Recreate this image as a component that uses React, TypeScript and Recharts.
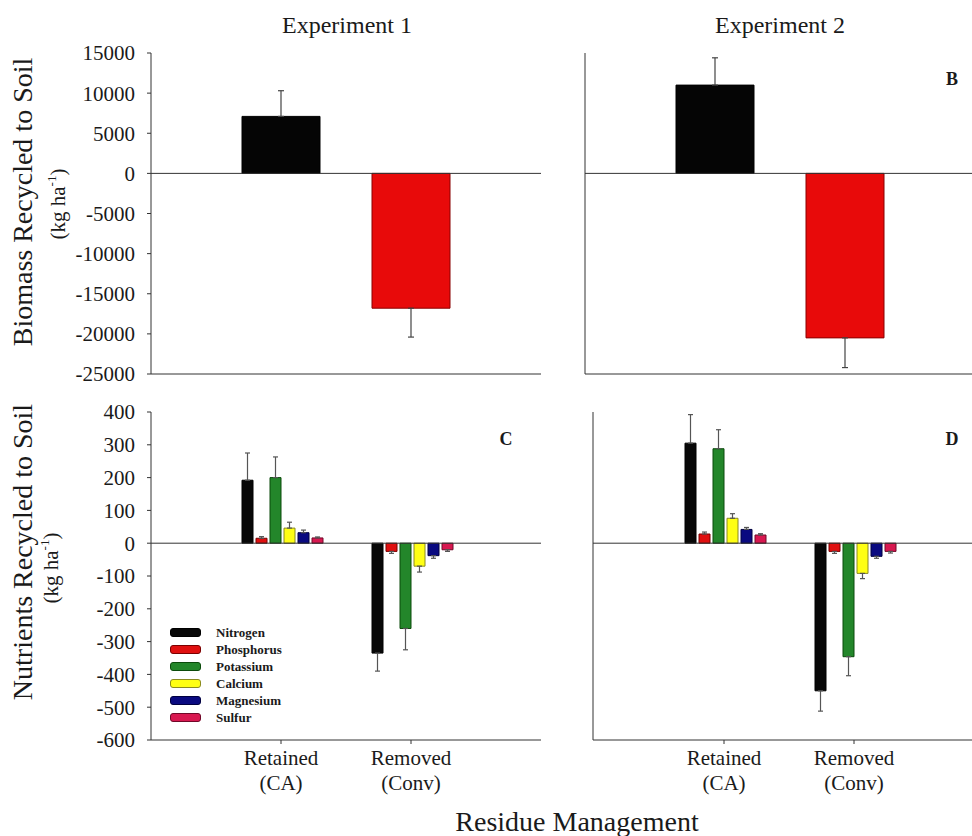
import { Bar, BarChart, Cell, ErrorBar, Legend, ReferenceLine, XAxis, YAxis } from "recharts";

const FONT = "'Liberation Serif', 'DejaVu Serif', 'Times New Roman', serif";
const PAGE_W = 972;
const PAGE_H = 836;
const CHART_W = 1040;
const INK = "#1a1a1a";
const AXIS = "#333";

// residue management treatments
const categories = ["Retained (CA)", "Removed (Conv)"];

// biomass recycled to soil (kg/ha), error drawn away from zero only
const biomassExp1 = [7100, -16800];
const biomassErrExp1 = [3200, 3600];
const biomassExp2 = [11000, -20500];
const biomassErrExp2 = [3400, 3700];
const biomassColors = ["#050505", "#e80a0a"];
const biomassStrokes = ["#000", "#8a0000"];
const biomassTicks = [15000, 10000, 5000, 0, -5000, -10000, -15000, -20000, -25000];

// nutrients recycled to soil (kg/ha)
const nutrients = ["Nitrogen", "Phosphorus", "Potassium", "Calcium", "Magnesium", "Sulfur"];
const nutrientKeys = ["N", "P", "K", "Ca", "Mg", "S"];
const nutrientColors = ["#080808", "#e01010", "#23862a", "#ffff14", "#0a0a80", "#d81850"];
const nutrientStrokes = ["#000", "#7a0000", "#0b4a0b", "#8a8a20", "#000040", "#700828"];
const nutrientTicks = [400, 300, 200, 100, 0, -100, -200, -300, -400, -500, -600];

const exp1Retained = [192, 15, 200, 46, 32, 16];
const exp1RetainedErr = [83, 5, 63, 18, 8, 3];
const exp1Removed = [-335, -25, -260, -70, -38, -20];
const exp1RemovedErr = [55, 6, 65, 18, 8, 5];
const exp2Retained = [305, 28, 288, 76, 42, 25];
const exp2RetainedErr = [87, 6, 58, 14, 6, 4];
const exp2Removed = [-450, -25, -346, -92, -40, -25];
const exp2RemovedErr = [62, 6, 58, 16, 6, 5];

const oneSided = (v: number, e: number) => (v >= 0 ? [0, e] : [e, 0]);

const biomassRows = (values: number[], errors: number[]) =>
  categories.map((name, i) => ({ name, value: values[i], err: oneSided(values[i], errors[i]) }));

const nutrientRow = (name: string, values: number[], errors: number[]) => {
  const row: Record<string, any> = { name };
  nutrientKeys.forEach((k, i) => {
    row[k] = values[i];
    row[k + "Err"] = oneSided(values[i], errors[i]);
  });
  return row;
};

const nutrientRows = (ret: number[], retErr: number[], rem: number[], remErr: number[]) => [
  nutrientRow(categories[0], ret, retErr),
  nutrientRow(categories[1], rem, remErr),
];

type Rect = { left: number; top: number; right: number; bottom: number };

function CategoryTick({ x, y, payload }: any) {
  const lines = String(payload.value).split(" ");
  return (
    <text x={x} y={y} textAnchor="middle" fontFamily={FONT} fontSize={21} fill={INK}>
      {lines.map((l, i) => (
        <tspan key={l} x={x} dy={i === 0 ? 19 : 25}>
          {l}
        </tspan>
      ))}
    </text>
  );
}

// legend keeps the series order (recharts sorts by name otherwise)
function renderLegend({ payload }: any) {
  const items = [...(payload || [])].sort((a: any, b: any) => nutrients.indexOf(a.value) - nutrients.indexOf(b.value));
  return (
    <div style={{ fontFamily: FONT }}>
      {items.map((p: any) => (
        <div key={p.value} style={{ display: "flex", alignItems: "center", height: 17 }}>
          <span
            style={{
              width: 29,
              height: 7,
              background: p.color,
              border: `1px solid ${nutrientStrokes[nutrients.indexOf(p.value)]}`,
              borderRadius: 3,
            }}
          />
          <span style={{ marginLeft: 15, fontWeight: "bold", fontSize: 13, color: INK }}>{p.value}</span>
        </div>
      ))}
    </div>
  );
}

function Panel(props: {
  rect: Rect;
  yAxisWidth: number;
  xAxisHeight: number;
  padLeft: number;
  data: any[];
  domain: [number, number];
  ticks: number[];
  showYLabels: boolean;
  showXLabels: boolean;
  frameRight: boolean;
  children: any;
}) {
  const { rect, yAxisWidth, xAxisHeight, padLeft, data, domain, ticks, showYLabels, showXLabels, frameRight } = props;
  const plotW = rect.right - rect.left;
  const margin = {
    top: rect.top,
    left: rect.left - yAxisWidth,
    right: CHART_W - rect.right,
    bottom: PAGE_H - rect.bottom - xAxisHeight,
  };
  return (
    <div style={{ position: "absolute", left: 0, top: 0 }}>
      <BarChart width={CHART_W} height={PAGE_H} data={data} margin={margin} barCategoryGap={26} barGap={3}>
        <XAxis
          dataKey="name"
          height={xAxisHeight}
          padding={{ left: padLeft, right: plotW - padLeft - 260 }}
          stroke={AXIS}
          tickSize={4}
          tick={showXLabels ? <CategoryTick /> : false}
          interval={0}
        />
        <XAxis xAxisId="frame" dataKey="name" orientation="top" height={0} tick={false} tickLine={false} stroke={AXIS} />
        <YAxis
          type="number"
          domain={domain}
          ticks={ticks}
          interval={0}
          width={yAxisWidth}
          stroke={AXIS}
          tickSize={4}
          tickMargin={12}
          tick={showYLabels ? { fontFamily: FONT, fontSize: 21, fill: INK } : false}
        />
        {frameRight && (
          <YAxis yAxisId="frame" orientation="right" width={0} domain={[0, 1]} tick={false} tickLine={false} stroke={AXIS} />
        )}
        <ReferenceLine y={0} stroke={AXIS} strokeWidth={1} />
        {props.children}
      </BarChart>
    </div>
  );
}

function biomassBar(rows: any[]) {
  return (
    <Bar dataKey="value" isAnimationActive={false} strokeWidth={1}>
      {rows.map((r, i) => (
        <Cell key={r.name} fill={biomassColors[i]} stroke={biomassStrokes[i]} />
      ))}
      <ErrorBar dataKey="err" width={3} stroke="#444" strokeWidth={1.2} direction="y" isAnimationActive={false} />
    </Bar>
  );
}

function nutrientBars() {
  return nutrientKeys.map((k, i) => (
    <Bar
      key={k}
      dataKey={k}
      name={nutrients[i]}
      fill={nutrientColors[i]}
      stroke={nutrientStrokes[i]}
      strokeWidth={1}
      isAnimationActive={false}
    >
      <ErrorBar dataKey={k + "Err"} width={2.5} stroke="#555" strokeWidth={1.2} direction="y" isAnimationActive={false} />
    </Bar>
  ));
}

export default function App() {
  const topLeft = biomassRows(biomassExp1, biomassErrExp1);
  const topRight = biomassRows(biomassExp2, biomassErrExp2);
  const bottomLeft = nutrientRows(exp1Retained, exp1RetainedErr, exp1Removed, exp1RemovedErr);
  const bottomRight = nutrientRows(exp2Retained, exp2RetainedErr, exp2Removed, exp2RemovedErr);

  return (
    <div
      style={{
        position: "absolute",
        left: 0,
        top: 0,
        width: PAGE_W,
        height: PAGE_H,
        overflow: "hidden",
        background: "#fff",
        fontFamily: FONT,
      }}
    >
      <Panel
        rect={{ left: 151, top: 53, right: 541, bottom: 374 }}
        yAxisWidth={151}
        xAxisHeight={20}
        padLeft={65}
        data={topLeft}
        domain={[-25000, 15000]}
        ticks={biomassTicks}
        showYLabels
        showXLabels={false}
        frameRight
      >
        {biomassBar(topLeft)}
      </Panel>
      <Panel
        rect={{ left: 585, top: 53, right: 1010, bottom: 374 }}
        yAxisWidth={20}
        xAxisHeight={20}
        padLeft={65}
        data={topRight}
        domain={[-25000, 15000]}
        ticks={biomassTicks}
        showYLabels={false}
        showXLabels={false}
        frameRight={false}
      >
        {biomassBar(topRight)}
      </Panel>
      <Panel
        rect={{ left: 151, top: 412, right: 541, bottom: 740 }}
        yAxisWidth={151}
        xAxisHeight={60}
        padLeft={65}
        data={bottomLeft}
        domain={[-600, 400]}
        ticks={nutrientTicks}
        showYLabels
        showXLabels
        frameRight
      >
        {nutrientBars()}
        <Legend
          layout="vertical"
          align="center"
          verticalAlign="middle"
          content={renderLegend}
          wrapperStyle={{ left: 170, top: 624, width: 200, height: "auto" }}
        />
      </Panel>
      <Panel
        rect={{ left: 593, top: 412, right: 1010, bottom: 740 }}
        yAxisWidth={20}
        xAxisHeight={60}
        padLeft={66}
        data={bottomRight}
        domain={[-600, 400]}
        ticks={nutrientTicks}
        showYLabels={false}
        showXLabels
        frameRight={false}
      >
        {nutrientBars()}
      </Panel>

      <svg
        width={PAGE_W}
        height={PAGE_H}
        style={{ position: "absolute", left: 0, top: 0, pointerEvents: "none" }}
        fontFamily={FONT}
        fill={INK}
      >
        <text x={347} y={33} fontSize={24} textAnchor="middle">Experiment 1</text>
        <text x={780} y={33} fontSize={24} textAnchor="middle">Experiment 2</text>

        <text x={32} y={202} fontSize={28} textAnchor="middle" transform="rotate(-90 32 202)">
          Biomass Recycled to Soil
        </text>
        <text x={65} y={204} fontSize={21} textAnchor="middle" transform="rotate(-90 65 204)">
          (kg ha<tspan fontSize={13} dy={-9}>-1</tspan><tspan dy={9}>)</tspan>
        </text>
        <text x={32} y={552} fontSize={28} textAnchor="middle" transform="rotate(-90 32 552)">
          Nutrients Recycled to Soil
        </text>
        <text x={58} y={568} fontSize={21} textAnchor="middle" transform="rotate(-90 58 568)">
          (kg ha<tspan fontSize={13} dy={-9}>-1</tspan><tspan dy={9}>)</tspan>
        </text>

        <text x={952} y={85} fontSize={18} fontWeight="bold" textAnchor="middle">B</text>
        <text x={506} y={445} fontSize={18} fontWeight="bold" textAnchor="middle">C</text>
        <text x={952} y={445} fontSize={18} fontWeight="bold" textAnchor="middle">D</text>

        <text x={577} y={831} fontSize={28} textAnchor="middle">Residue Management</text>
      </svg>
    </div>
  );
}
